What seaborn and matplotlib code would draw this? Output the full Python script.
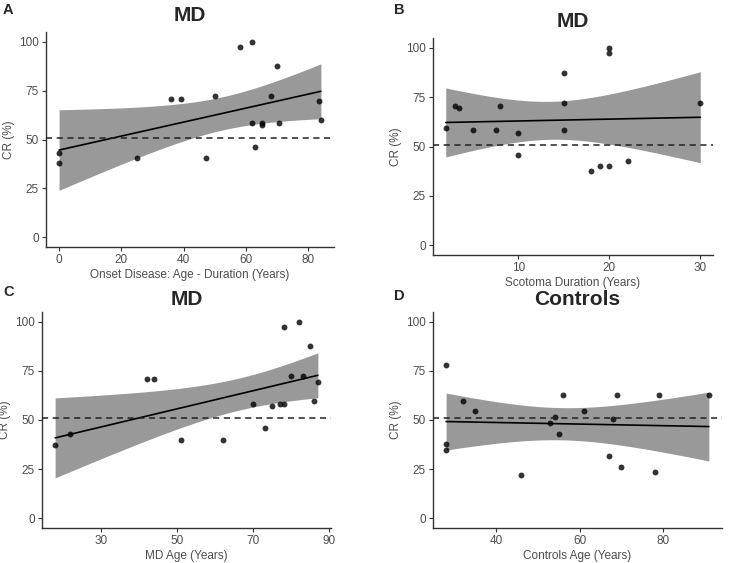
import numpy as np
import pandas as pd
import matplotlib
matplotlib.use("Agg")
import matplotlib.pyplot as plt
import seaborn as sns

sns.set_style("ticks")
plt.rcParams["font.family"] = ["Liberation Sans", "DejaVu Sans"]

# MD patients: contrast reversal (%) per subject
cr_md = [43.1, 37.8, 40.4, 70.9, 70.9, 40.4, 72.4, 97.4, 100.0, 58.6,
         46.2, 58.6, 57.2, 72.4, 87.6, 58.6, 69.7, 60.0]
onset_md = [0, 0, 25, 36, 39, 47, 50, 58, 62, 62, 63, 65, 65, 68, 70, 70.5, 83.5, 84]

cr_age = [37.5, 42.8, 70.7, 70.7, 40.0, 40.0, 58.3, 45.8, 56.9, 58.3,
          58.3, 97.2, 72.2, 100.0, 72.2, 87.5, 59.7, 69.4]
age_md = [18, 22, 42, 44, 51, 62, 70, 73, 75, 77, 78, 78, 80, 82, 83, 85, 86, 87]

cr_scot = [59.5, 70.7, 69.5, 58.5, 58.5, 70.7, 57.0, 45.9, 87.4, 72.1,
           58.5, 37.6, 40.3, 40.3, 100.0, 97.3, 42.9, 72.1]
scotoma = [2, 3, 3.5, 5, 7.5, 8, 10, 10, 15, 15, 15, 18, 19, 20, 20, 20, 22, 30]

# Controls
cr_ctrl = [78.0, 37.7, 34.5, 59.7, 54.4, 22.0, 48.6, 51.4, 43.0, 62.6,
           54.4, 31.9, 50.3, 62.6, 26.1, 23.5, 62.6, 62.6]
age_ctrl = [28, 28, 28, 32, 35, 46, 53, 54, 55, 56, 61, 67, 68, 69, 70, 78, 79, 91]

chance = 51
T975 = 2.12  # t quantile, df = 16

W, H = 733, 563
fig = plt.figure(figsize=(W / 100, H / 100), dpi=100)


def px_axes(x0, y0, x1, y1):
    return fig.add_axes([x0 / W, 1 - y1 / H, (x1 - x0) / W, (y1 - y0) / H])


def ci_band(ax, xs, ys):
    # analytic 95% confidence band of the OLS fit (like geom_smooth)
    x = np.asarray(xs, float)
    y = np.asarray(ys, float)
    n = len(x)
    b, a = np.polyfit(x, y, 1)
    resid = y - (a + b * x)
    s = np.sqrt(np.sum(resid ** 2) / (n - 2))
    grid = np.linspace(x.min(), x.max(), 200)
    se = s * np.sqrt(1 / n + (grid - x.mean()) ** 2 / np.sum((x - x.mean()) ** 2))
    fit = a + b * grid
    ax.fill_between(grid, fit - T975 * se, fit + T975 * se, color="#999999",
                    lw=0, zorder=2)


panels = [
    ("A", "MD", onset_md, cr_md, "Onset Disease: Age - Duration (Years)",
     (46, 32, 334, 247), [0, 20, 40, 60, 80], (3, 3), 8),
    ("B", "MD", scotoma, cr_scot, "Scotoma Duration (Years)",
     (433, 38, 713, 255), [10, 20, 30], (394, 3), 8),
    ("C", "MD", age_md, cr_age, "MD Age (Years)",
     (42, 312, 331, 528), [30, 50, 70, 90], (3, 285), 5),
    ("D", "Controls", age_ctrl, cr_ctrl, "Controls Age (Years)",
     (433, 312, 722, 528), [40, 60, 80], (394, 289), 5),
]

grey_txt = "#4d4d4d"
for letter, title, xs, ys, xlabel, box, xticks, lpos, tpad in panels:
    ax = px_axes(*box)
    df = pd.DataFrame({"x": xs, "y": ys})
    ci_band(ax, xs, ys)
    sns.regplot(data=df, x="x", y="y", ax=ax, ci=None,
                scatter_kws=dict(color="black", s=18, linewidths=0, zorder=4),
                line_kws=dict(color="black", lw=1.2, zorder=3))
    ax.axhline(chance, color="#222222", lw=1.1, ls=(0, (4, 3)), zorder=5,
               clip_on=False)
    xr = max(xs) - min(xs)
    ax.set_xlim(min(xs) - 0.05 * xr, max(xs) + 0.05 * xr)
    ax.set_ylim(-5, 105)
    ax.set_xticks(xticks)
    ax.set_yticks([0, 25, 50, 75, 100])
    ax.tick_params(labelsize=8.5, colors="#333333", labelcolor=grey_txt, length=3,
                   pad=2)
    ax.set_xlabel(xlabel, fontsize=8.5, color=grey_txt, labelpad=2)
    ax.set_ylabel("CR (%)", fontsize=8.5, color=grey_txt, labelpad=3)
    ax.set_title(title, fontsize=15, fontweight="bold", pad=tpad)
    sns.despine(ax=ax)
    for s in ("left", "bottom"):
        ax.spines[s].set_color("#333333")
        ax.spines[s].set_linewidth(1.0)
    fig.text(lpos[0] / W, 1 - lpos[1] / H, letter, fontsize=10.5,
             fontweight="bold", ha="left", va="top")

fig.savefig("out.png", dpi=100)
